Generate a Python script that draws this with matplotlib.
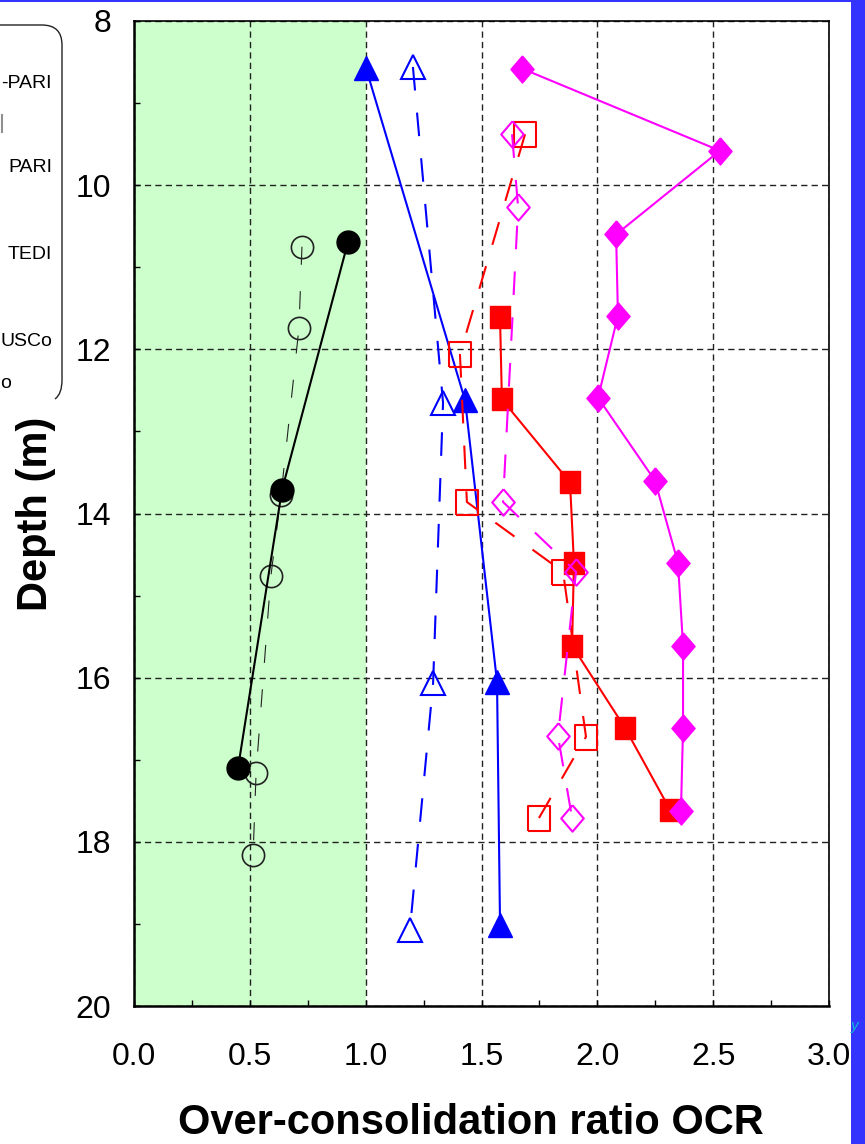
import matplotlib.pyplot as plt
from matplotlib.lines import Line2D
from matplotlib.patches import PathPatch, Rectangle
from matplotlib.path import Path
from matplotlib.ticker import MultipleLocator
from matplotlib.transforms import Affine2D

plt.rcParams['font.family'] = 'Liberation Sans'
plt.rcParams['lines.scale_dashes'] = False

# OCR profiles against depth (m)
ocr_black_solid = [0.924, 0.639, 0.449]
depth_black_solid = [10.69, 13.71, 17.10]

ocr_black_open = [0.725, 0.712, 0.635, 0.591, 0.527, 0.514]
depth_black_open = [10.75, 11.74, 13.77, 14.76, 17.16, 18.16]

ocr_blue_solid = [1.001, 1.429, 1.567, 1.580]
depth_blue_solid = [8.57, 12.62, 16.05, 19.01]

ocr_blue_open = [1.204, 1.334, 1.291, 1.191]
depth_blue_open = [8.56, 12.65, 16.07, 19.07]

ocr_red_solid = [1.580, 1.588, 1.882, 1.899, 1.891, 2.119, 2.314]
depth_red_solid = [11.61, 12.61, 13.62, 14.60, 15.61, 16.61, 17.61]

ocr_red_open = [1.688, 1.407, 1.437, 1.852, 1.951, 1.748]
depth_red_open = [9.38, 12.06, 13.86, 14.71, 16.72, 17.71]

ocr_mag_solid = [1.675, 2.529, 2.081, 2.089, 2.003, 2.249, 2.348, 2.370, 2.370, 2.361]
depth_mag_solid = [8.58, 9.58, 10.60, 11.59, 12.59, 13.60, 14.60, 15.61, 16.61, 17.62]

ocr_mag_open = [1.632, 1.658, 1.593, 1.908, 1.830, 1.891]
depth_mag_open = [9.38, 10.27, 13.86, 14.71, 16.71, 17.71]

legend_labels = ['-PARI', 'PARI', 'TEDI', 'USCo']
legend_label_y = [84, 168, 254, 342]

W, H = 865, 1144
fig = plt.figure(figsize=(W / 100, H / 100), dpi=100)
ax = fig.add_axes([134 / W, 1 - 1006 / H, (829 - 134) / W, (1006 - 21) / H])

# slightly tall diamond and square outlines
diamond = [(0, 1.17), (1, 0), (0, -1.17), (-1, 0), (0, 1.17)]
square = [(-1, -1.15), (1, -1.15), (1, 1.15), (-1, 1.15), (-1, -1.15)]

dash_col = (17, 16)
dash_blk = (13, 19)

ax.axvspan(0, 1.0, color='#ccffcc', zorder=0.5, lw=0)

ax.plot(ocr_black_open, depth_black_open, color='#222222', lw=0.8, dashes=dash_blk,
        marker='o', ms=16, mfc='none', mec='#222222', mew=1.2)
ax.plot(ocr_black_solid, depth_black_solid, color='black', lw=1.5,
        marker='o', ms=16.5, mfc='black', mec='black', mew=1)

ax.plot(ocr_blue_open, depth_blue_open, color='blue', lw=1.5, dashes=dash_col,
        marker='^', ms=17, mfc='none', mec='blue', mew=1.5)
ax.plot(ocr_blue_solid, depth_blue_solid, color='blue', lw=1.5,
        marker='^', ms=17.5, mfc='blue', mec='blue')

ax.plot(ocr_red_open, depth_red_open, color='red', lw=1.5, dashes=dash_col,
        marker=square, ms=18, mfc='none', mec='red', mew=1.5)
ax.plot(ocr_red_solid, depth_red_solid, color='red', lw=1.5,
        marker=square, ms=16.5, mfc='red', mec='red')

ax.plot(ocr_mag_open, depth_mag_open, color='magenta', lw=1.5, dashes=dash_col,
        marker=diamond, ms=19, mfc='none', mec='magenta', mew=1.5)
ax.plot(ocr_mag_solid, depth_mag_solid, color='magenta', lw=1.5,
        marker=diamond, ms=19.5, mfc='magenta', mec='magenta')

ax.set_xlim(0, 3.0)
ax.set_ylim(20, 8)
ax.xaxis.set_major_locator(MultipleLocator(0.5))
ax.xaxis.set_minor_locator(MultipleLocator(0.25))
ax.yaxis.set_major_locator(MultipleLocator(2))
ax.yaxis.set_minor_locator(MultipleLocator(1))
ax.xaxis.set_major_formatter(lambda v, p: f'{v:.1f}')

ax.grid(True, which='major', color='#222222', lw=1.0, dashes=(4.5, 3))
ax.tick_params(which='both', direction='in', length=4.5, width=1,
               top=False, right=False, labelsize=23)
ax.tick_params(axis='x', pad=26)
ax.tick_params(axis='y', pad=16.5)

for side in ['left', 'bottom']:
    ax.spines[side].set_linewidth(1.8)
for side in ['top', 'right']:
    ax.spines[side].set_linewidth(1.2)

fig.text(471 / W, 1 - 1143 / H, 'Over-consolidation ratio OCR', fontsize=30,
         fontweight='bold', ha='center', va='bottom')
fig.text(36 / W, 1 - 514 / H, 'Depth (m)', fontsize=30, fontweight='bold',
         rotation=90, ha='center', va='center')

# pixel coordinates, origin top-left
px = Affine2D().scale(1 / W, -1 / H).translate(0, 1) + fig.transFigure

# legend frame, cut off at the left edge
frame = Path([(-5, 25), (42, 25), (62, 25), (62, 45), (62, 380), (62, 394), (55, 399)],
             [Path.MOVETO, Path.LINETO, Path.CURVE3, Path.CURVE3, Path.LINETO,
              Path.CURVE3, Path.CURVE3])
fig.patches.append(PathPatch(frame, transform=px, fill=False, edgecolor='#222222', lw=1.0))
for label, y in zip(legend_labels, legend_label_y):
    fig.text(52 / W, 1 - y / H, label, fontsize=14, ha='right', va='center')
fig.text(0, 1 - 383 / H, 'o', fontsize=14, ha='left', va='center')
fig.lines.append(Line2D([1.5, 1.5], [115, 132], transform=px, color='#909090', lw=1.5))

# blue frame strips
fig.text(851 / W, 1 - 1030 / H, 'y', fontsize=11, color='#10b8d8', style='italic',
         zorder=6)
fig.patches.append(Rectangle((851, 0), 14, H, transform=px, color='#3434ff', lw=0, zorder=5))
fig.patches.append(Rectangle((0, 0), W, 1.5, transform=px, color='#3434ff', lw=0, zorder=5))

fig.savefig('out.png', dpi=100)
